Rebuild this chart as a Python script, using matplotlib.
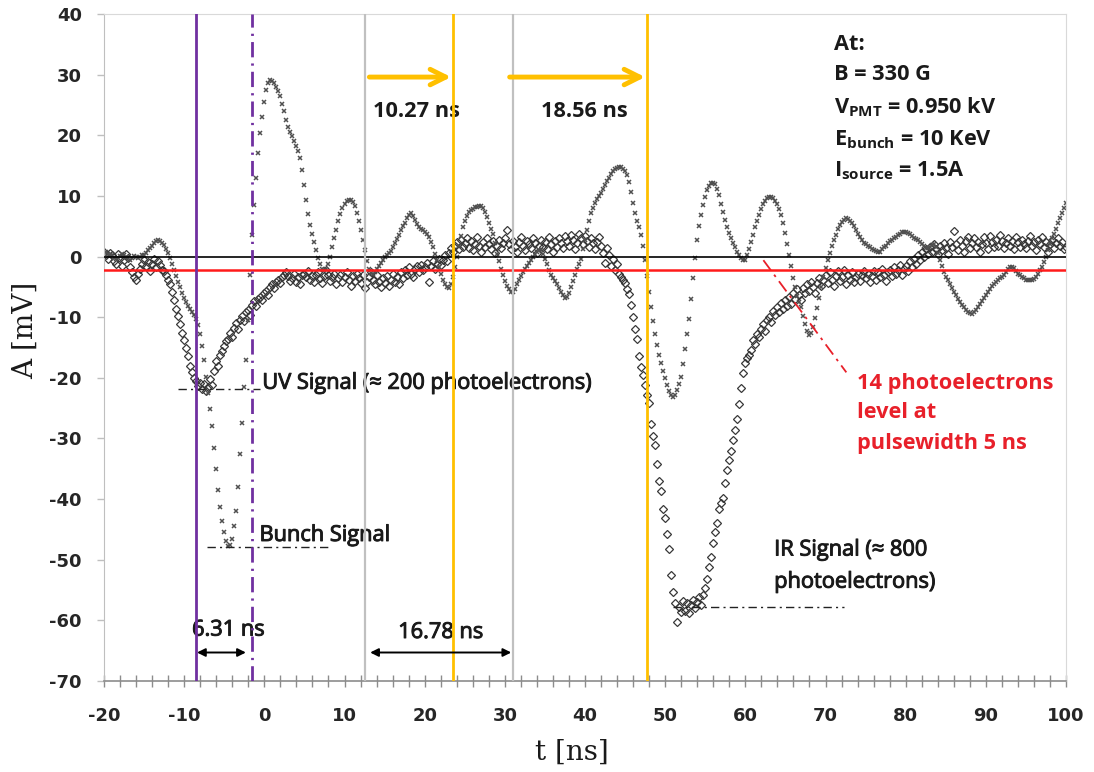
import numpy as np
import matplotlib
matplotlib.use("Agg")
import matplotlib.pyplot as plt
import matplotlib.patheffects as pe
from matplotlib.ticker import MultipleLocator, FixedLocator

plt.rcParams['font.family'] = ['Open Sans', 'DejaVu Sans']
plt.rcParams['mathtext.fontset'] = 'custom'
plt.rcParams['mathtext.rm'] = 'Open Sans:bold'
plt.rcParams['mathtext.it'] = 'Open Sans:bold'
plt.rcParams['mathtext.bf'] = 'Open Sans:bold'

# ---- oscilloscope traces (mV), sampled every 0.25 ns from t = -20 ns ----
T_START = -20.0
T_STEP = 0.25

# bunch pick-up signal (small x markers)
bunch_mv = [
    0.5, 0.8, 0.4, 0.2, 0.3, -0.2, -0.4, -0.3, 0.1, 0.4, 0.3, 0.0, -0.3, -0.5, -0.2, 0.1, -0.1, -0.3, 0.0, 0.2,
    0.3, 0.6, 1.0, 1.4, 1.8, 2.2, 2.6, 2.8, 2.6, 2.3, 1.9, 1.3, 0.6, -0.3, -1.3, -2.3, -3.2, -4.2, -5.1, -6.0,
    -6.8, -7.5, -8.1, -8.6, -9.1, -9.6, -10.3, -11.3, -12.8, -14.8, -17.0, -19.8, -22.5, -25.2, -28.0, -31.5, -35.0, -38.5, -41.3, -43.6,
    -45.5, -46.9, -47.8, -47.6, -46.6, -44.4, -42.0, -38.0, -32.5, -27.5, -21.5, -17.0, -10.5, -3.0, 3.5, 8.5, 13.0, 17.0, 20.4, 23.0,
    25.5, 27.5, 28.6, 29.1, 29.0, 28.6, 28.0, 27.3, 26.4, 25.2, 24.0, 22.6, 21.4, 20.5, 19.8, 19.0, 18.2, 17.4, 16.2, 14.3,
    11.8, 9.3, 7.0, 5.2, 3.8, 2.4, 1.0, -0.3, -1.3, -2.0, -2.3, -2.0, -1.2, 0.0, 1.5, 3.0, 4.4, 5.8, 7.0, 8.0,
    8.7, 9.1, 9.3, 9.3, 9.0, 8.3, 7.2, 5.8, 4.3, 2.7, 1.0, -0.7, -2.0, -2.7, -2.8, -2.5, -2.0, -1.5, -1.0, -0.5,
    0.0, 0.3, 0.6, 0.9, 1.5, 2.2, 2.9, 3.6, 4.3, 5.0, 5.6, 6.3, 6.9, 7.1, 6.7, 6.0, 5.4, 4.9, 4.6, 4.3,
    4.0, 3.7, 3.2, 2.4, 1.5, 0.5, -0.6, -1.8, -2.9, -3.9, -4.6, -5.1, -5.2, -4.6, -3.4, -1.8, 0.0, 1.8, 3.4, 4.8,
    5.9, 6.7, 7.3, 7.7, 7.9, 8.1, 8.2, 8.3, 8.3, 8.0, 7.4, 6.5, 5.5, 4.6, 3.8, 2.2, 0.5, -0.8, -2.0, -3.1,
    -4.0, -4.8, -5.4, -5.8, -5.9, -5.3, -4.6, -3.9, -3.2, -2.6, -2.0, -1.5, -1.0, -0.6, -0.1, 0.4, 0.8, 1.1, 1.0, 0.4,
    -0.4, -1.3, -2.2, -3.0, -3.6, -4.1, -4.6, -5.2, -5.8, -6.4, -6.8, -6.6, -6.0, -5.1, -4.1, -3.0, -2.0, -1.2, -0.4, 1.2,
    2.8, 4.4, 5.8, 7.1, 8.0, 8.8, 9.5, 10.0, 10.5, 11.1, 11.8, 12.4, 13.0, 13.6, 14.1, 14.4, 14.6, 14.7, 14.7, 14.5,
    14.1, 13.5, 12.3, 10.6, 8.8, 7.2, 5.9, 4.8, 3.6, 1.8, -0.6, -3.2, -5.8, -8.3, -10.6, -12.8, -14.6, -16.2, -17.6, -18.9,
    -20.1, -21.2, -22.1, -22.8, -23.1, -22.8, -22.0, -21.0, -19.8, -17.8, -15.3, -12.8, -10.3, -7.0, -3.6, -0.3, 2.8, 5.0, 6.9, 8.5,
    9.9, 11.0, 11.7, 12.1, 12.2, 11.9, 11.2, 10.1, 8.7, 7.3, 6.0, 4.9, 3.9, 3.0, 2.2, 1.5, 0.8, 0.2, -0.3, -0.6,
    -0.5, 0.2, 1.2, 2.4, 3.6, 4.8, 5.9, 6.9, 7.8, 8.6, 9.2, 9.6, 9.8, 9.8, 9.6, 9.2, 8.6, 7.8, 6.8, 5.5,
    3.9, 2.1, 0.3, -1.6, -3.5, -5.1, -6.5, -7.5, -8.4, -9.8, -11.2, -12.3, -12.9, -12.6, -11.6, -10.1, -8.5, -6.8, -5.0, -3.4,
    -1.9, -0.6, 0.6, 1.7, 2.7, 3.6, 4.5, 5.2, 5.7, 6.1, 6.3, 6.2, 5.9, 5.5, 5.0, 4.4, 3.8, 3.2, 2.7, 2.3,
    2.0, 1.7, 1.5, 1.3, 1.1, 0.9, 0.7, 0.8, 1.2, 1.5, 1.8, 2.2, 2.5, 2.8, 3.0, 3.3, 3.5, 3.8, 4.0, 4.1,
    4.1, 3.9, 3.7, 3.4, 3.1, 2.9, 2.7, 2.4, 2.0, 1.7, 1.4, 1.4, 1.6, 1.9, 2.1, 1.6, 0.6, -0.5, -1.5, -2.5,
    -3.3, -3.9, -4.5, -5.2, -5.8, -6.4, -7.0, -7.5, -8.0, -8.4, -8.8, -9.1, -9.3, -9.4, -9.2, -8.8, -8.4, -7.9, -7.4, -6.9,
    -6.4, -5.9, -5.4, -4.9, -4.5, -4.2, -3.9, -3.6, -3.4, -3.0, -2.5, -2.1, -1.8, -1.7, -1.9, -2.4, -2.8, -3.1, -3.4, -3.6,
    -3.8, -3.9, -3.9, -3.9, -3.7, -3.3, -2.9, -2.3, -1.7, -0.9, 0.0, 1.0, 2.0, 3.0, 3.8, 4.6, 5.5, 6.3, 7.1, 8.0, 8.8,
]

# photomultiplier signal (open diamonds)
pmt_mv = [
    0.8, 0.3, -0.4, 0.6, 0.2, -0.8, -1.2, 0.5, -0.2, -1.5, -0.6, 0.4, -0.3, -1.8, -2.6, -3.4, -3.9, -2.8, -2.0, -1.2,
    -0.6, -1.6, -0.9, -2.4, -1.2, -0.4, -1.8, -0.8, -1.4, -2.2, -2.4, -3.0, -3.8, -4.6, -5.8, -7.2, -8.6, -9.8, -11.2, -12.6,
    -13.8, -15.0, -16.4, -18.0, -19.0, -20.0, -20.6, -21.4, -20.8, -21.8, -21.0, -22.2, -21.5, -20.2, -21.2, -18.8, -17.2, -18.0, -16.2, -15.6,
    -14.8, -14.0, -13.6, -12.6, -13.2, -11.8, -11.0, -12.0, -10.4, -9.8, -10.6, -9.2, -8.8, -9.6, -8.0, -7.4, -8.2, -7.0, -6.6, -7.2,
    -6.0, -5.6, -6.4, -5.0, -4.6, -5.2, -4.2, -3.8, -4.4, -3.4, -3.0, -2.6, -3.2, -4.0, -3.6, -2.8, -4.2, -3.4, -4.6, -3.0,
    -2.8, -3.4, -2.4, -3.8, -3.2, -4.2, -3.0, -2.6, -3.6, -4.4, -3.2, -2.2, -3.0, -4.0, -3.4, -2.8, -4.6, -3.6, -3.0, -4.2,
    -3.4, -2.6, -3.8, -4.8, -3.2, -4.0, -2.8, -3.6, -4.4, -3.0, -5.2, -4.2, -3.4, -2.6, -3.8, -4.6, -3.0, -4.2, -5.0, -3.6,
    -4.4, -3.2, -4.8, -3.8, -2.8, -4.2, -3.4, -4.6, -2.6, -3.6, -2.2, -3.0, -1.8, -2.8, -3.4, -2.0, -1.6, -2.6, -1.4, -2.2,
    -1.8, -1.0, -4.2, -1.6, -0.8, -2.0, -1.2, -0.4, -1.4, -0.6, 0.2, -0.8, 0.6, 1.4, 0.8, 1.8, 2.4, 1.2, 2.8, 1.6,
    2.2, 3.0, 1.4, 2.6, 1.0, 2.0, 3.2, 1.8, 0.8, 2.4, 1.6, 3.0, 2.0, 1.2, 2.6, 0.6, 1.8, 2.8, 1.4, 2.2,
    3.0, 4.4, 2.0, 1.2, 2.6, 1.6, 0.8, 2.4, 3.2, 1.8, 1.0, 2.6, 2.0, 1.4, 3.0, 2.2, 0.6, 1.8, 2.8, 1.6,
    2.4, 1.2, 3.2, 2.0, 0.8, 2.6, 1.6, 3.0, 2.2, 1.4, 3.4, 2.6, 1.8, 3.6, 2.8, 1.2, 2.2, 3.8, 3.0, 2.0,
    3.4, 2.6, 1.6, 3.0, 2.2, 1.2, 2.4, 3.2, 1.8, 0.6, -1.0, 1.4, 0.2, -1.6, -0.4, -2.2, -1.2, -2.8, -3.4, -3.8,
    -4.4, -5.4, -6.2, -8.0, -10.0, -12.0, -13.6, -16.4, -18.2, -19.6, -21.2, -22.8, -24.2, -27.6, -29.6, -31.0, -34.2, -37.0, -38.6, -41.6,
    -43.2, -45.8, -48.2, -52.6, -55.4, -57.2, -60.2, -57.8, -58.6, -56.8, -58.4, -57.2, -58.8, -57.4, -56.6, -58.0, -57.0, -56.2, -57.4, -55.8,
    -54.6, -53.2, -51.2, -49.6, -47.2, -45.4, -44.0, -41.6, -40.6, -39.8, -37.4, -35.2, -33.6, -32.0, -30.2, -28.6, -26.8, -24.4, -21.6, -19.2,
    -17.6, -16.8, -16.2, -15.4, -13.8, -14.4, -12.8, -13.2, -12.0, -11.2, -12.2, -10.4, -10.0, -10.8, -9.0, -9.6, -8.4, -9.2, -7.6, -8.6,
    -7.2, -8.2, -6.6, -7.8, -6.0, -7.0, -5.4, -6.4, -7.2, -5.2, -6.0, -4.6, -5.6, -4.2, -5.0, -6.0, -4.4, -3.6, -4.8, -3.8,
    -3.0, -4.4, -2.6, -3.8, -4.8, -3.2, -2.4, -4.0, -3.4, -2.2, -4.6, -3.0, -3.8, -2.6, -4.2, -3.4, -2.8, -4.0, -3.0, -2.4,
    -3.6, -2.8, -4.2, -3.2, -2.4, -3.8, -2.6, -3.4, -2.0, -3.0, -4.0, -2.6, -2.2, -3.2, -1.8, -2.8, -2.2, -1.4, -3.0, -2.0,
    -1.6, -2.4, -0.8, -1.8, -0.4, -1.2, 0.2, -0.6, 0.8, 0.0, 1.2, 0.4, 1.6, 0.8, 2.0, 1.2, 0.4, 1.8, 1.0, 2.2,
    1.4, 0.4, 2.4, 1.6, 4.2, 2.0, 1.0, 2.8, 1.8, 0.8, 2.6, 3.2, 1.4, 2.2, 3.0, 1.6, 2.4, 0.8, 2.0, 3.2,
    2.2, 1.2, 3.4, 2.4, 1.6, 2.8, 1.8, 3.6, 2.6, 1.4, 2.2, 3.0, 1.8, 2.6, 1.2, 3.2, 2.4, 1.6, 2.8, 2.0,
    1.4, 2.6, 3.4, 1.8, 2.4, 1.0, 2.8, 2.0, 3.2, 1.6, 2.4, 0.8, 2.0, 2.8, 1.4, 2.2, 3.0, 1.8, 2.4, 1.2, 1.6,
]

# reference levels and timing markers (ns / mV)
threshold_mv = -2.3
uv_markers_ns = [-8.5, -1.6]
gray_markers_ns = [12.5, 31.0]
yellow_markers_ns = [23.5, 47.75]

x_ticks = [-20, -10, 0, 10, 20, 30, 40, 50, 60, 70, 80, 90, 100]
y_ticks = [-70, -60, -50, -40, -30, -20, -10, 0, 10, 20, 30, 40]

t_bunch = T_START + T_STEP * np.arange(len(bunch_mv))
t_pmt = T_START + T_STEP * np.arange(len(pmt_mv))

W, H = 1094, 772
fig = plt.figure(figsize=(W / 100, H / 100), dpi=100)
ax = fig.add_axes([104 / W, 1 - 681 / H, (1066 - 104) / W, (681 - 14) / H])

TXT = '#1a1a1a'
RED = '#e8202a'
NOTE_FS = 15.7
heavy = [pe.withStroke(linewidth=0.7, foreground=TXT)]


def note(x, y, s, **kw):
    """Regular-weight annotation, slightly thickened."""
    kw.setdefault('ha', 'left')
    return ax.text(x, y, s, fontsize=NOTE_FS, va='center', color=TXT,
                   path_effects=heavy, zorder=3, **kw)


def bold_note(x, y, s, color=TXT):
    return ax.text(x, y, s, fontsize=NOTE_FS, fontweight='bold', ha='left',
                   va='center', color=color, zorder=3)


# traces
ax.plot(t_pmt, pmt_mv, linestyle='none', marker='D', ms=4.4, mfc='none',
        mec='#383838', mew=0.9, zorder=2)
ax.plot(t_bunch, bunch_mv, linestyle='none', marker='x', ms=2.4,
        color='#505050', mew=1.1, zorder=2.5)

# reference lines
ax.axhline(0, color='black', lw=1.2, zorder=4)
ax.axhline(threshold_mv, color='#ff1a1a', lw=1.8, zorder=4)
ax.axvline(uv_markers_ns[0], color='#7030A0', lw=2.0, zorder=4)
ax.axvline(uv_markers_ns[1], color='#7030A0', lw=2.0, zorder=4,
           linestyle=(0, (5.5, 2.2, 0.8, 2.2)))
for xv in gray_markers_ns:
    ax.axvline(xv, color='#c0c0c0', lw=1.6, zorder=4)
for xv in yellow_markers_ns:
    ax.axvline(xv, color='#FFC000', lw=2.0, zorder=4)

# yellow delay arrows
for x0, x1 in [(13.1, 23.3), (30.6, 47.5)]:
    ax.annotate('', xy=(x1, 29.6), xytext=(x0, 29.6),
                arrowprops=dict(arrowstyle='->', color='#FFC000', lw=3.5,
                                mutation_scale=28, shrinkA=0, shrinkB=0),
                zorder=5)
bold_note(13.5, 24.0, '10.27 ns')
bold_note(34.5, 24.0, '18.56 ns')

# black width arrows
for x0, x1 in [(-8.4, -2.3), (13.2, 30.8)]:
    ax.annotate('', xy=(x1, -65.3), xytext=(x0, -65.3),
                arrowprops=dict(arrowstyle='<|-|>', color='black', lw=1.4,
                                mutation_scale=12, shrinkA=0, shrinkB=0),
                zorder=5)
note(-4.5, -61.6, '6.31 ns', ha='center')
note(22.0, -62.0, '16.78 ns', ha='center')

# signal level guides
dd = (0, (6, 3, 1.5, 3))
ax.plot([-10.75, -0.6], [-21.9, -21.9], color='#222222', lw=1.0, linestyle=dd, zorder=3)
ax.plot([-7.1, 8.0], [-47.9, -47.9], color='#222222', lw=1.0, linestyle=dd, zorder=3)
ax.plot([51.0, 72.3], [-57.8, -57.8], color='#222222', lw=1.0, linestyle=dd, zorder=3)
ax.plot([62.25, 72.6], [-0.6, -19.1], color=RED, lw=1.3,
        linestyle=(0, (7, 3, 1.5, 3)), zorder=3)

note(-0.25, -20.9, 'UV Signal (≈ 200 photoelectrons)')
note(-0.6, -46.0, 'Bunch Signal')
note(63.6, -48.4, 'IR Signal (≈ 800')
note(63.6, -53.7, 'photoelectrons)')

for y, s in [(-20.9, '14 photoelectrons'), (-25.8, 'level at'),
             (-30.8, 'pulsewidth 5 ns')]:
    bold_note(73.9, y, s, color=RED)

for y, s in [(34.9, 'At:'), (30.1, 'B = 330 G'),
             (24.6, r'V$_{\mathrm{PMT}}$ = 0.950 kV'),
             (19.2, r'E$_{\mathrm{bunch}}$ = 10 KeV'),
             (14.2, r'I$_{\mathrm{source}}$ = 1.5A')]:
    bold_note(71.1, y, s)

# axes styling
ax.set_xlim(-20, 100)
ax.set_ylim(-70, 40)
ax.xaxis.set_major_locator(FixedLocator(x_ticks))
ax.xaxis.set_minor_locator(MultipleLocator(2))
ax.yaxis.set_major_locator(FixedLocator(y_ticks))
ax.set_xticklabels([str(v) for v in x_ticks])
ax.set_yticklabels([str(v) for v in y_ticks])
for lab in ax.get_xticklabels() + ax.get_yticklabels():
    lab.set_fontfamily('DejaVu Sans')
    lab.set_fontweight('bold')
    lab.set_fontsize(13)
    lab.set_color('#262626')
ax.tick_params(axis='x', which='both', direction='inout', length=9,
               width=1.0, color='#8c8c8c', pad=14)
ax.tick_params(axis='y', which='major', direction='out', length=5,
               width=1.0, color='#bfbfbf', pad=11)
ax.tick_params(axis='y', which='minor', left=False)
ax.spines['bottom'].set_color('#8c8c8c')
ax.spines['bottom'].set_linewidth(1.2)
ax.spines['left'].set_color('#bfbfbf')
ax.spines['top'].set_color('#d9d9d9')
ax.spines['right'].set_color('#d9d9d9')

fig.text(572 / W, 1 - 752 / H, 't [ns]', fontfamily='DejaVu Serif',
         fontsize=20, ha='center', va='center', color=TXT)
fig.text(25 / W, 1 - 330 / H, 'A [mV]', fontfamily='DejaVu Serif',
         fontsize=20, ha='center', va='center', rotation=90, color=TXT)

fig.savefig('out.png', dpi=100)
